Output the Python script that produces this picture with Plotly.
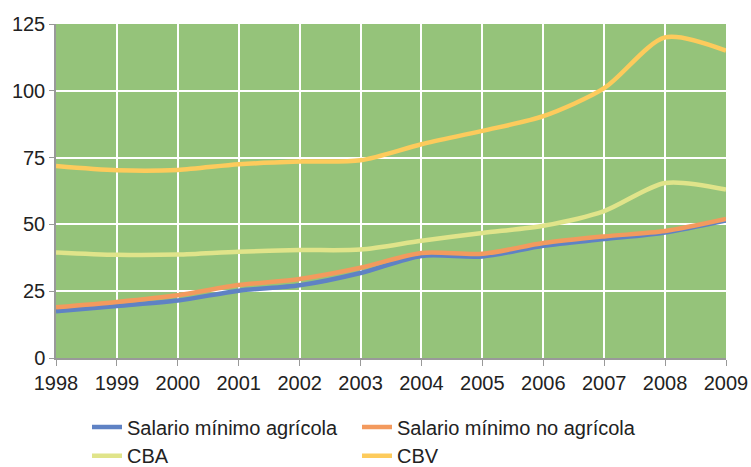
import plotly.graph_objects as go

years = list(range(1998, 2010))
salario_agricola = [17.5, 19.5, 21.5, 25.2, 27.2, 31.8, 38.2, 38.0, 42.0, 44.5, 47.0, 51.5]
salario_no_agricola = [19.0, 21.0, 23.5, 27.3, 29.6, 33.8, 39.3, 39.0, 43.0, 45.5, 47.5, 52.0]
cba = [39.5, 38.6, 38.7, 39.8, 40.4, 40.6, 43.9, 46.8, 49.5, 55.0, 65.5, 63.0]
cbv = [71.9, 70.3, 70.4, 72.5, 73.5, 74.0, 80.0, 85.0, 90.5, 101.0, 120.0, 115.0]

# each legend entry gets its own legend box so the two-column grid lines up
series = [
    ("Salario mínimo agrícola", salario_agricola, "#5f82c4", "legend", 87, 0.1274),
    ("Salario mínimo no agrícola", salario_no_agricola, "#f39a5e", "legend2", 357, 0.1274),
    ("CBA", cba, "#e0e48a", "legend3", 87, 0.066),
    ("CBV", cbv, "#fdcb5c", "legend4", 357, 0.066),
]

font = dict(family="Liberation Sans, Arial, sans-serif", size=20, color="#222222")
legend_font = dict(family="Liberation Sans, Arial, sans-serif", size=20, color="#222222")

fig = go.Figure()
legends = {}
for name, values, color, legend, lx, ly in series:
    fig.add_trace(go.Scatter(
        x=years,
        y=values,
        name=name,
        mode="lines",
        line=dict(color=color, width=4.5, shape="spline", smoothing=0.8),
        legend=legend,
    ))
    legends[legend] = dict(
        orientation="h", xref="container", yref="container",
        x=lx / 751, y=ly, xanchor="left", yanchor="top",
        font=legend_font, bgcolor="rgba(0,0,0,0)",
    )

fig.update_layout(
    width=751,
    height=467,
    margin=dict(l=56, r=25, t=24, b=109, autoexpand=False),
    paper_bgcolor="white",
    plot_bgcolor="#95c37a",
    font=font,
    showlegend=True,
    **legends,
)

fig.update_xaxes(
    range=[1998, 2009],
    tickmode="array",
    tickvals=years,
    ticktext=[str(y) for y in years],
    showgrid=True,
    gridcolor="white",
    gridwidth=1.5,
    zeroline=False,
    showline=True,
    linecolor="#999999",
    linewidth=1.5,
    ticks="outside",
    ticklen=6,
    tickcolor="#999999",
    automargin=False,
)
fig.update_yaxes(
    range=[0, 125],
    tickvals=[0, 25, 50, 75, 100, 125],
    showgrid=True,
    gridcolor="white",
    gridwidth=1.5,
    zeroline=False,
    showline=True,
    linecolor="#999999",
    linewidth=1.5,
    ticks="outside",
    ticklen=5,
    tickcolor="#999999",
    automargin=False,
)

fig.write_html(
    "out.html",
    config={"displayModeBar": False},
    post_script="document.body.style.margin='0';",
)
